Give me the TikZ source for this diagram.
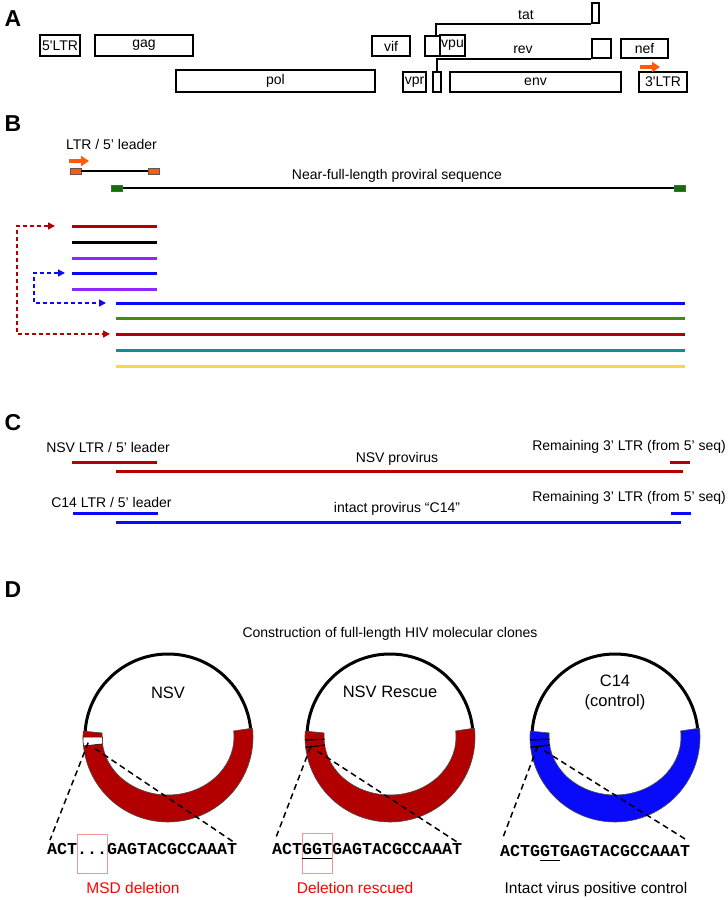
\documentclass[tikz,border=0pt]{standalone}
\usepackage{fontspec}
\setmainfont{Liberation Sans}
\newfontfamily\seqfont{Liberation Mono}
\usepackage{xcolor}
\usetikzlibrary{arrows.meta,positioning,calc}

\definecolor{hivred}{RGB}{178,0,0}
\definecolor{hivblue}{RGB}{10,10,250}
\definecolor{hivgreen}{RGB}{70,140,10}
\definecolor{hivteal}{RGB}{20,140,140}
\definecolor{hivgold}{RGB}{255,210,80}
\definecolor{hivviolet}{RGB}{140,40,255}
\definecolor{hivorange}{RGB}{255,90,10}
\definecolor{hivdkgreen}{RGB}{20,110,10}
\definecolor{boxpink}{RGB}{240,150,150}

\tikzset{
  gene/.style={draw, line width=1.8pt, inner sep=0pt, font=\fontsize{14}{14}\selectfont},
  lbl/.style={inner sep=0pt, font=\fontsize{14}{16}\selectfont},
  note/.style={inner sep=0pt, anchor=base, font=\fontsize{15.5}{17}\selectfont},
  plasname/.style={inner sep=0pt, align=center, font=\fontsize{16.5}{20}\selectfont},
  panel/.style={inner sep=0pt, font=\fontsize{23}{23}\selectfont\bfseries},
  seqline/.style={line width=3pt},
  endbox/.style={draw=black!65, line width=0.6pt, minimum width=11pt, minimum height=6pt, inner sep=0pt},
  primer/.style={hivorange, line width=3.5pt, -{Triangle[length=8pt,width=10pt]}},
  jump/.style={line width=1.5pt, dash pattern=on 4pt off 3pt, {Triangle[length=7pt,width=7pt]}-{Triangle[length=7pt,width=7pt]}},
  plasmid/.style={draw, circle, line width=3pt, minimum size=166pt, inner sep=0pt},
  zoomline/.style={line width=1.5pt, dash pattern=on 6pt off 4pt},
  bases/.style={inner sep=0pt, outer sep=0pt, text height=10pt, text depth=0pt, font=\seqfont\bfseries\fontsize{16.67}{17}\selectfont},
  seqbox/.style={draw=boxpink, line width=0.8pt}
}

\begin{document}
\begin{tikzpicture}[x=1pt, y=-1pt]
        \useasboundingbox (0,0) rectangle (728,900);

        % Panel A: genome map
        \node[panel] (labA) at (13,18.5) {A};
        \node[gene, minimum width=40pt, minimum height=21pt] (ltr5) at (60,45.5) {5\textquotesingle LTR};
        \node[gene, minimum width=98pt, minimum height=21pt] (gag) at (144,45.5) {gag};
        \node[gene, minimum width=199pt, minimum height=22pt] (pol) at (275.5,81) {pol};
        \node[gene, minimum width=38pt, minimum height=20pt] (vif) at (391,46) {vif};
        \node[gene, minimum width=23pt, minimum height=20pt] (vpr) at (414.5,82) {vpr};
        \node[gene, minimum width=15pt, minimum height=20pt] (tatex1) at (432.5,46) {};
        \node[gene, minimum width=25pt, minimum height=21pt] (vpu) at (452.5,45.5) {vpu};
        \node[gene, minimum width=8pt, minimum height=20pt] (revex1) at (437,82) {};
        \node[gene, minimum width=171pt, minimum height=20pt] (env) at (535.5,82) {env};
        \node[gene, minimum width=7pt, minimum height=20pt] (tatex2) at (595.5,13) {};
        \node[gene, minimum width=19pt, minimum height=19pt] (revex2) at (601.5,48.5) {};
        \node[gene, minimum width=47pt, minimum height=19pt] (nef) at (644.5,48.5) {nef};
        \node[gene, minimum width=48pt, minimum height=20pt] (ltr3) at (663,82) {3\textquotesingle LTR};
        \draw[line width=1.8pt] ([xshift=3.5pt]tatex1.north) |- (tatex2.south west);
        \draw[line width=1.8pt] (revex1.north) |- (revex2.south west);
        \node[lbl] (tatlbl) at (526,15) {tat};
        \node[lbl] (revlbl) at (523,50) {rev};
        \draw[primer] (640,67) -- (660,67);

        % Panel B: amplicons
        \node[panel] (labB) at (13,123.5) {B};
        \node[lbl] (ldrtxt) at (111.5,144) {LTR / 5’ leader};
        \draw[primer] (69,161) -- (89,161);
        \node[endbox, fill=hivorange] (ldrL) at (75.5,171) {};
        \node[endbox, fill=hivorange] (ldrR) at (154,171) {};
        \draw[line width=2.5pt] (ldrL) -- (ldrR);
        \node[lbl] (nflltxt) at (397,176) {Near-full-length proviral sequence};
        \node[endbox, fill=hivdkgreen] (nfllL) at (117,188) {};
        \node[endbox, fill=hivdkgreen] (nfllR) at (680,188) {};
        \draw[line width=2.5pt] (nfllL) -- (nfllR);

        % short 5' reads and long proviral reads
        \foreach \y/\col [count=\i] in {226/hivred, 242/black, 258/hivviolet, 273/hivblue, 289/hivviolet} {
            \coordinate (sh\i) at (72,\y);
            \draw[seqline, \col] (sh\i) -- ++(85,0);
        }
        \foreach \y/\col [count=\i] in {303/hivblue, 318/hivgreen, 334/hivred, 350/hivteal, 366/hivgold} {
            \coordinate (lg\i) at (116,\y);
            \draw[seqline, \col] (lg\i) -- ++(569,0);
        }
        \draw[jump, hivred] ([xshift=-17pt]sh1) -- ++(-38,0) |- ([xshift=-6pt]lg3);
        \draw[jump, hivblue] ([xshift=-7pt]sh4) -- ++(-31,0) |- ([xshift=-10pt]lg1);

        % Panel C: matched 5' and 3' ends
        \node[panel] (labC) at (13,423) {C};
        \node[lbl] (nsvldr) at (108,447) {NSV LTR / 5’ leader};
        \node[lbl] (nsvprov) at (397,459) {NSV provirus};
        \node[lbl, anchor=east] (nsvrem) at (726,447) {Remaining 3’ LTR (from 5’ seq)};
        \draw[seqline, hivred] (72,462) -- (157,462);
        \draw[seqline, hivred] (116,471) -- (683,471);
        \draw[seqline, hivred] (670,462) -- (690,462);

        \node[lbl] (ctlldr) at (111.5,502) {C14 LTR / 5’ leader};
        \node[lbl] (ctlprov) at (397,509) {intact provirus “C14”};
        \node[lbl, anchor=east] (ctlrem) at (726,498) {Remaining 3’ LTR (from 5’ seq)};
        \draw[seqline, hivblue] (73,513) -- (158,513);
        \draw[seqline, hivblue] (116,522) -- (681,522);
        \draw[seqline, hivblue] (671,513) -- (691,513);

        % Panel D: molecular clones
        \node[panel] (labD) at (13,590) {D};
        \node[lbl] (title) at (390,634) {Construction of full-length HIV molecular clones};

        \foreach \cx/\col/\n in {168/hivred/nsv, 390/hivred/rsc, 615/hivblue/ctl} {
            \begin{scope}[shift={(\cx,737)}]
                \node[plasmid] (\n) at (0,0) {};
                \fill[\col, draw=black!70, line width=0.6pt] (184:85) arc[start angle=184, end angle=-6, radius=85]
                    -- ({66*cos(-6)},{58*sin(-6)}) arc[start angle=-6, end angle=184, x radius=66, y radius=58] -- cycle;
            \end{scope}
        }
        \node[plasname] (nsvname) at (168,693) {NSV};
        \node[plasname] (rscname) at (390,692) {NSV Rescue};
        \node[plasname] (ctlname) at (615,692) {C14\\(control)};

        % deletion and rescued junctions
        \begin{scope}[shift={(168,737)}]
            \fill[white, draw=black, line width=0.5pt] (174:85) arc[start angle=174, end angle=180, radius=85]
                -- (180:65.5) arc[start angle=180, end angle=174, radius=65.5] -- cycle;
        \end{scope}
        \foreach \cx in {390,615} {
            \begin{scope}[shift={(\cx,737)}]
                \draw[line width=1.3pt] (178:85) -- (178:65.5);
                \draw[line width=1.3pt] (173:85) -- (173:65.5);
            \end{scope}
        }

        % sequences
        \node[bases, anchor=west] (nsvA) at (47,849) {ACT};
        \node[bases, right=0pt of nsvA] (nsvB) {...};
        \node[bases, right=0pt of nsvB] (nsvC) {GAGTACGCCAAAT};
        \draw[seqbox] ([yshift=10pt]nsvB.north west) rectangle ([yshift=-19pt]nsvB.south east);

        \node[bases, anchor=west] (rscA) at (272,849) {ACT};
        \node[bases, right=0pt of rscA] (rscB) {GGT};
        \node[bases, right=0pt of rscB] (rscC) {GAGTACGCCAAAT};
        \draw[seqbox] ([yshift=11pt]rscB.north west) rectangle ([yshift=-19pt]rscB.south east);
        \draw[line width=1pt] ([yshift=-4pt]rscB.south west) -- ([yshift=-4pt]rscB.south east);

        \node[bases, anchor=west] (ctlA) at (500,851) {ACTG};
        \node[bases, right=0pt of ctlA] (ctlB) {GT};
        \node[bases, right=0pt of ctlB] (ctlC) {GAGTACGCCAAAT};
        \draw[line width=1pt] ([yshift=-4pt]ctlB.south west) -- ([yshift=-4pt]ctlB.south east);

        % zoom lines from plasmid to sequence
        \coordinate (nsvout) at ($(nsv)+(176:80)$);
        \coordinate (nsvin) at ($(nsv)+(171:74)$);
        \coordinate (rscout) at ($(rsc)+(173:80)$);
        \coordinate (rscin) at ($(rsc)+(169:74)$);
        \coordinate (ctlout) at ($(ctl)+(173:78)$);
        \coordinate (ctlin) at ($(ctl)+(169:72)$);
        \draw[zoomline] (nsvout) -- ([xshift=3pt,yshift=4pt]nsvA.north west);
        \draw[zoomline] (nsvin) -- ([xshift=-2pt,yshift=1pt]nsvC.north east);
        \draw[zoomline] (rscout) -- ([xshift=3pt,yshift=4pt]rscA.north west);
        \draw[zoomline] (rscin) -- ([xshift=-5pt,yshift=2pt]rscC.north east);
        \draw[zoomline] (ctlout) -- ([xshift=2pt,yshift=6pt]ctlA.north west);
        \draw[zoomline] (ctlin) -- ([xshift=-5pt,yshift=7pt]ctlC.north east);

        % notes
        \node[note, text=red] (nsvnote) at (133,893) {MSD deletion};
        \node[note, text=red] (rscnote) at (355,893) {Deletion rescued};
        \node[note] (ctlnote) at (596,893) {Intact virus positive control};

    \end{tikzpicture}
\end{document}
